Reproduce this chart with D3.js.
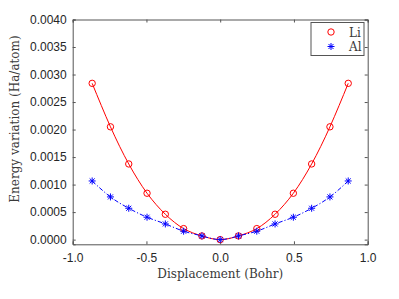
<!DOCTYPE html>
<html>
<head>
<meta charset="utf-8">
<script src="https://cdn.jsdelivr.net/npm/d3@7"></script>
<style>
  body { margin: 0; background: #fff; }
  .tick text { font-family: "Liberation Sans", Arial, sans-serif; font-size: 12px; fill: #262626; }
  .title { font-family: "DejaVu Serif", serif; font-size: 12px; fill: #3a3a3a; }
</style>
</head>
<body>
<div id="chart"></div>
<script>
// displacement (Bohr)
var displacement = [-0.868, -0.744, -0.62, -0.496, -0.372, -0.248, -0.124, 0,
                    0.124, 0.248, 0.372, 0.496, 0.62, 0.744, 0.868];
// energy variation (Ha/atom)
var li = [0.00284, 0.00205, 0.001375, 0.000843, 0.000461, 0.0002, 0.000067, 0,
          0.000067, 0.0002, 0.000461, 0.000843, 0.001375, 0.00205, 0.00284];
var al = [0.001066, 0.000776, 0.00057, 0.000407, 0.000285, 0.000153, 0.000067, 0,
          0.000067, 0.000153, 0.000285, 0.000407, 0.00057, 0.000776, 0.001066];
var xTicks = [-1, -0.5, 0, 0.5, 1];
var xTickLabels = ['-1.0', '-0.5', '0.0', '0.5', '1.0'];
var yTicks = [0, 0.0005, 0.001, 0.0015, 0.002, 0.0025, 0.003, 0.0035, 0.004];
var yTickLabels = ['0.0000', '0.0005', '0.0010', '0.0015', '0.0020', '0.0025', '0.0030', '0.0035', '0.0040'];

var W = 399, H = 299;
var plotLeft = 72.7, plotRight = 367.7, plotTop = 19.5, plotBottom = 244.3;

var svg = d3.select('#chart').append('svg')
    .attr('width', W)
    .attr('height', H);

var x = d3.scaleLinear().domain([-1, 1]).range([plotLeft, plotRight]);
var y = d3.scaleLinear().domain([-0.000085, 0.004]).range([plotBottom, plotTop]);

var axisColor = '#555';

// axes (matlab style box, ticks inward)
var xAxis = svg.append('g')
    .attr('transform', 'translate(0,' + plotBottom + ')')
    .call(d3.axisBottom(x).tickValues(xTicks).tickSize(-3).tickPadding(9)
        .tickFormat(function(d, i) { return xTickLabels[i]; }));
var yAxis = svg.append('g')
    .attr('transform', 'translate(' + plotLeft + ',0)')
    .call(d3.axisLeft(y).tickValues(yTicks).tickSize(-3).tickPadding(6)
        .tickFormat(function(d, i) { return yTickLabels[i]; }));
var xTop = svg.append('g')
    .attr('transform', 'translate(0,' + plotTop + ')')
    .call(d3.axisTop(x).tickValues(xTicks).tickSize(-3).tickFormat(''));
var yRight = svg.append('g')
    .attr('transform', 'translate(' + plotRight + ',0)')
    .call(d3.axisRight(y).tickValues(yTicks).tickSize(-3).tickFormat(''));

[xAxis, yAxis, xTop, yRight].forEach(function(g) {
    g.select('.domain').attr('stroke', axisColor).attr('stroke-width', 1);
    g.selectAll('.tick line').attr('stroke', axisColor);
});

// lines
var line = d3.line()
    .x(function(d, i) { return x(displacement[i]); })
    .y(function(d) { return y(d); })
    .curve(d3.curveNatural);

svg.append('path')
    .datum(li)
    .attr('d', line)
    .attr('fill', 'none')
    .attr('stroke', '#ff0000')
    .attr('stroke-width', 1);

svg.append('path')
    .datum(al)
    .attr('d', line)
    .attr('fill', 'none')
    .attr('stroke', '#0000ff')
    .attr('stroke-width', 1)
    .attr('stroke-dasharray', '4.5,2,1.2,2');

// markers
svg.selectAll('circle.li')
    .data(li)
    .enter().append('circle')
    .attr('class', 'li')
    .attr('cx', function(d, i) { return x(displacement[i]); })
    .attr('cy', function(d) { return y(d); })
    .attr('r', 3.2)
    .attr('fill', 'none')
    .attr('stroke', '#ff0000')
    .attr('stroke-width', 1);

// matlab style '*' marker: plus + cross
var asterisk = {
    draw: function(ctx, size) {
        var r = Math.sqrt(size) / 2, c = r * 0.72;
        ctx.moveTo(-r, 0); ctx.lineTo(r, 0);
        ctx.moveTo(0, -r); ctx.lineTo(0, r);
        ctx.moveTo(-c, -c); ctx.lineTo(c, c);
        ctx.moveTo(-c, c); ctx.lineTo(c, -c);
    }
};
var star = d3.symbol().type(asterisk).size(49);
svg.selectAll('path.al')
    .data(al)
    .enter().append('path')
    .attr('class', 'al')
    .attr('transform', function(d, i) {
        return 'translate(' + x(displacement[i]) + ',' + y(d) + ')';
    })
    .attr('d', star)
    .attr('fill', 'none')
    .attr('stroke', '#0000ff')
    .attr('stroke-width', 1);

// legend
var legend = svg.append('g');
legend.append('rect')
    .attr('x', 311).attr('y', 22.5)
    .attr('width', 53).attr('height', 33)
    .attr('fill', '#fff')
    .attr('stroke', axisColor)
    .attr('stroke-width', 1);
legend.append('circle')
    .attr('cx', 331).attr('cy', 32)
    .attr('r', 3.2)
    .attr('fill', 'none')
    .attr('stroke', '#ff0000');
legend.append('path')
    .attr('transform', 'translate(331,46.5)')
    .attr('d', star)
    .attr('fill', 'none')
    .attr('stroke', '#0000ff');
legend.append('text')
    .attr('class', 'title')
    .attr('x', 349).attr('y', 36.5)
    .text('Li');
legend.append('text')
    .attr('class', 'title')
    .attr('x', 349).attr('y', 51)
    .text('Al');

// axis titles
svg.append('text')
    .attr('class', 'title')
    .attr('x', (plotLeft + plotRight) / 2)
    .attr('y', 278)
    .attr('text-anchor', 'middle')
    .text('Displacement (Bohr)');

svg.append('text')
    .attr('class', 'title')
    .attr('transform', 'translate(19,119) rotate(-90)')
    .attr('text-anchor', 'middle')
    .text('Energy variation (Ha/atom)');
</script>
</body>
</html>
